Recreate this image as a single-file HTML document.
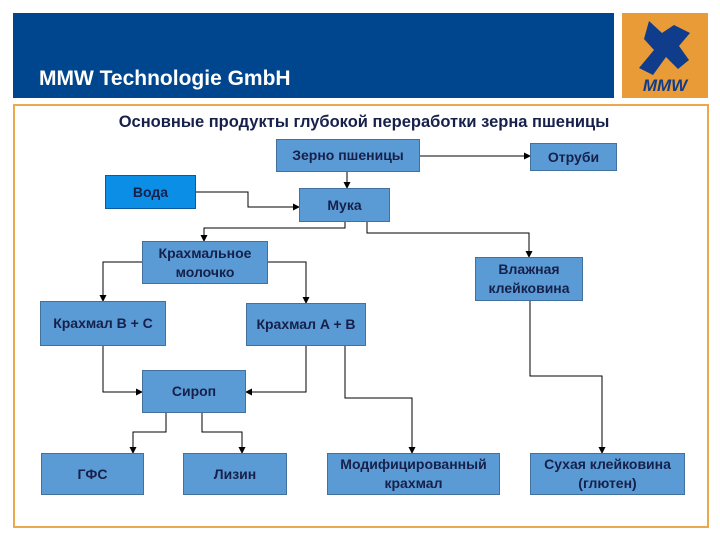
<!DOCTYPE html>
<html><head><meta charset="utf-8"><style>
body{margin:0;width:720px;height:540px;background:#fff;font-family:"Liberation Sans",sans-serif;position:relative;overflow:hidden}
.hdr{position:absolute;left:13px;top:13px;width:601px;height:85px;background:#00468e}
.hdr span{position:absolute;left:26px;top:54px;color:#fff;font-weight:bold;font-size:21px}
.logo{position:absolute;left:622px;top:13px;width:86px;height:85px;background:#e89b36}
.frame{position:absolute;left:13px;top:104px;width:692px;height:420px;border:2px solid #eba94c}
.b{position:absolute;background:#5b9bd5;border:1px solid #41719c;box-sizing:border-box;display:flex;align-items:center;justify-content:center;text-align:center;color:#16204a;font-weight:bold;font-size:14px;line-height:19px}
.t{position:absolute;left:0;width:728px;top:113px;text-align:center;color:#16204a;font-weight:bold;font-size:16.5px}
svg{position:absolute;left:0;top:0}
</style></head><body>
<div class="hdr"><span>MMW Technologie GmbH</span></div>
<div class="logo"><svg width="86" height="85" viewBox="0 0 86 85" style="position:absolute;left:0;top:0">
<path d="M27 8 L40 20 L52 12 L68 20 L57 33 L67 47 L56 56 L44 44 L31 62 L17 55 L32 37 L22 26 Z" fill="#0f3d8c"/>
<text x="43" y="78" text-anchor="middle" font-family="Liberation Sans" font-weight="bold" font-style="italic" font-size="17" fill="#0f3d8c">MMW</text></svg></div>
<div class="frame"></div>
<div class="t">Основные продукты глубокой переработки зерна пшеницы</div>
<svg width="720" height="540"><defs><marker id="a" markerWidth="7" markerHeight="7" refX="6" refY="3.5" orient="auto" markerUnits="userSpaceOnUse"><path d="M0,0 L7,3.5 L0,7 Z" fill="#000"/></marker></defs>
<g stroke="#000" stroke-width="1" fill="none" marker-end="url(#a)">
<path d="M420 156 H530"/>
<path d="M347 171 V188"/>
<path d="M196 192 H248 V207 H299"/>
<path d="M345 222 V228 H204 V241"/>
<path d="M367 222 V233 H529 V257"/>
<path d="M142 262 H103 V301"/>
<path d="M268 262 H306 V303"/>
<path d="M103 346 V392 H142"/>
<path d="M306 346 V392 H246"/>
<path d="M345 346 V398 H412 V453"/>
<path d="M166 413 V432 H133 V453"/>
<path d="M202 413 V432 H242 V453"/>
<path d="M530 300 V376 H602 V453"/>
</g></svg>
<div class="b" style="left:276px;top:139px;width:144px;height:33px">Зерно пшеницы</div>
<div class="b" style="left:530px;top:143px;width:87px;height:28px">Отруби</div>
<div class="b" style="left:105px;top:175px;width:91px;height:34px;background:#0a8ee6;border-color:#0b5aa0">Вода</div>
<div class="b" style="left:299px;top:188px;width:91px;height:34px">Мука</div>
<div class="b" style="left:142px;top:241px;width:126px;height:43px">Крахмальное<br>молочко</div>
<div class="b" style="left:475px;top:257px;width:108px;height:44px">Влажная<br>клейковина</div>
<div class="b" style="left:40px;top:301px;width:126px;height:45px">Крахмал B + C</div>
<div class="b" style="left:246px;top:303px;width:120px;height:43px">Крахмал A + B</div>
<div class="b" style="left:142px;top:370px;width:104px;height:43px">Сироп</div>
<div class="b" style="left:41px;top:453px;width:103px;height:42px">ГФС</div>
<div class="b" style="left:183px;top:453px;width:104px;height:42px">Лизин</div>
<div class="b" style="left:327px;top:453px;width:173px;height:42px">Модифицированный<br>крахмал</div>
<div class="b" style="left:530px;top:453px;width:155px;height:42px">Сухая клейковина<br>(глютен)</div>
</body></html>
